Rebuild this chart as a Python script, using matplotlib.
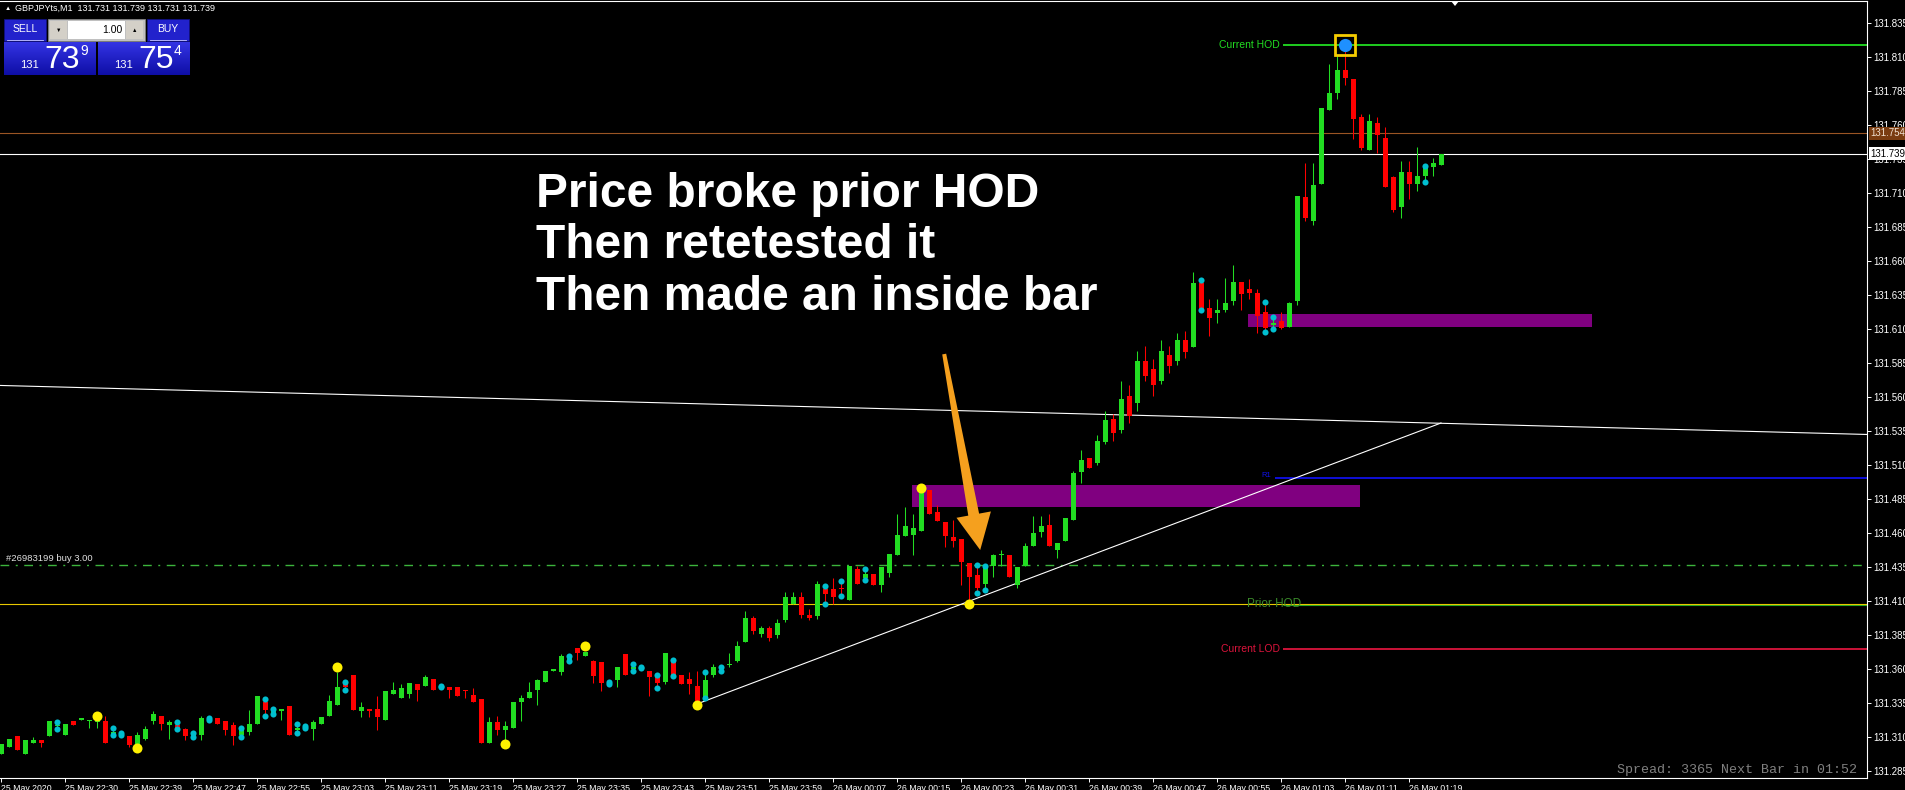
import numpy as np
import matplotlib
matplotlib.use("Agg")
import matplotlib.pyplot as plt
import matplotlib.patches as patches
import matplotlib.transforms as mtransforms
from matplotlib.colors import LinearSegmentedColormap

# ---- data (one entry per 1-minute bar) ----
opens = [131.298, 131.303, 131.311, 131.298, 131.306, 131.308, 131.311, 131.318, 131.312, 131.322,
         131.323, 131.322, 131.321, 131.322, 131.312, 131.312, 131.311, 131.304, 131.309, 131.322,
         131.326, 131.319, 131.319, 131.316, 131.312, 131.312, 131.324, 131.324, 131.322, 131.319,
         131.312, 131.314, 131.320, 131.336, 131.327, 131.329, 131.333, 131.315, 131.317, 131.316,
         131.320, 131.326, 131.334, 131.349, 131.356, 131.329, 131.331, 131.331, 131.323, 131.342,
         131.339, 131.342, 131.349, 131.348, 131.353, 131.347, 131.347, 131.347, 131.345, 131.341,
         131.338, 131.306, 131.321, 131.315, 131.317, 131.336, 131.339, 131.345, 131.351, 131.359,
         131.358, 131.367, 131.376, 131.370, 131.366, 131.365, 131.350, 131.352, 131.371, 131.360,
         131.361, 131.359, 131.355, 131.351, 131.366, 131.356, 131.353, 131.348, 131.339, 131.356,
         131.360, 131.363, 131.366, 131.380, 131.398, 131.386, 131.390, 131.385, 131.396, 131.408,
         131.413, 131.400, 131.399, 131.419, 131.419, 131.420, 131.411, 131.434, 131.427, 131.430,
         131.422, 131.431, 131.444, 131.458, 131.459, 131.462, 131.492, 131.476, 131.468, 131.457,
         131.456, 131.438, 131.429, 131.423, 131.436, 131.444, 131.444, 131.422, 131.436, 131.451,
         131.461, 131.466, 131.448, 131.454, 131.470, 131.505, 131.515, 131.512, 131.527, 131.544,
         131.536, 131.561, 131.556, 131.587, 131.581, 131.572, 131.591, 131.587, 131.602, 131.597,
         131.644, 131.626, 131.622, 131.624, 131.631, 131.645, 131.640, 131.637, 131.623, 131.613,
         131.616, 131.612, 131.631, 131.707, 131.690, 131.717, 131.771, 131.784, 131.801, 131.794,
         131.766, 131.742, 131.762, 131.751, 131.722, 131.700, 131.726, 131.717, 131.723, 131.729,
         131.731]
highs = [131.305, 131.309, 131.311, 131.308, 131.310, 131.308, 131.322, 131.321, 131.320, 131.322,
         131.324, 131.323, 131.326, 131.326, 131.317, 131.313, 131.311, 131.314, 131.318, 131.329,
         131.326, 131.323, 131.321, 131.317, 131.313, 131.326, 131.324, 131.324, 131.322, 131.321,
         131.317, 131.330, 131.340, 131.338, 131.331, 131.331, 131.333, 131.320, 131.318, 131.323,
         131.325, 131.341, 131.358, 131.351, 131.356, 131.336, 131.331, 131.340, 131.344, 131.351,
         131.349, 131.350, 131.349, 131.356, 131.353, 131.348, 131.347, 131.347, 131.345, 131.346,
         131.338, 131.325, 131.326, 131.322, 131.336, 131.341, 131.351, 131.353, 131.359, 131.360,
         131.371, 131.370, 131.376, 131.373, 131.367, 131.365, 131.351, 131.362, 131.371, 131.364,
         131.362, 131.359, 131.356, 131.372, 131.367, 131.356, 131.358, 131.359, 131.358, 131.364,
         131.362, 131.372, 131.381, 131.403, 131.399, 131.392, 131.392, 131.397, 131.417, 131.417,
         131.417, 131.404, 131.425, 131.421, 131.427, 131.425, 131.436, 131.436, 131.434, 131.430,
         131.435, 131.445, 131.474, 131.479, 131.474, 131.491, 131.492, 131.481, 131.468, 131.470,
         131.456, 131.438, 131.437, 131.436, 131.445, 131.448, 131.444, 131.435, 131.453, 131.473,
         131.473, 131.474, 131.453, 131.471, 131.506, 131.521, 131.515, 131.532, 131.550, 131.548,
         131.572, 131.569, 131.594, 131.598, 131.588, 131.602, 131.598, 131.607, 131.609, 131.652,
         131.646, 131.632, 131.632, 131.648, 131.657, 131.645, 131.647, 131.640, 131.630, 131.619,
         131.623, 131.630, 131.708, 131.732, 131.732, 131.773, 131.805, 131.812, 131.819, 131.794,
         131.768, 131.768, 131.766, 131.759, 131.723, 131.734, 131.734, 131.744, 131.730, 131.736,
         131.739]
lows = [131.298, 131.303, 131.301, 131.298, 131.306, 131.303, 131.311, 131.316, 131.312, 131.319,
        131.323, 131.317, 131.317, 131.306, 131.312, 131.312, 131.303, 131.304, 131.308, 131.320,
        131.315, 131.309, 131.316, 131.308, 131.310, 131.308, 131.323, 131.320, 131.312, 131.304,
        131.310, 131.312, 131.320, 131.326, 131.327, 131.323, 131.312, 131.313, 131.317, 131.308,
        131.320, 131.326, 131.334, 131.345, 131.330, 131.325, 131.325, 131.315, 131.323, 131.342,
        131.339, 131.339, 131.337, 131.348, 131.345, 131.347, 131.339, 131.340, 131.339, 131.336,
        131.306, 131.306, 131.312, 131.308, 131.317, 131.322, 131.339, 131.334, 131.351, 131.359,
        131.356, 131.366, 131.367, 131.370, 131.350, 131.344, 131.349, 131.347, 131.356, 131.359,
        131.361, 131.340, 131.346, 131.349, 131.355, 131.349, 131.342, 131.336, 131.339, 131.354,
        131.359, 131.362, 131.365, 131.380, 131.386, 131.384, 131.381, 131.383, 131.395, 131.408,
        131.398, 131.396, 131.397, 131.408, 131.408, 131.414, 131.411, 131.423, 131.426, 131.422,
        131.417, 131.428, 131.444, 131.458, 131.444, 131.462, 131.474, 131.469, 131.450, 131.450,
        131.422, 131.408, 131.416, 131.418, 131.428, 131.436, 131.428, 131.420, 131.436, 131.451,
        131.457, 131.451, 131.442, 131.454, 131.470, 131.497, 131.508, 131.510, 131.526, 131.528,
        131.534, 131.541, 131.550, 131.572, 131.561, 131.570, 131.578, 131.584, 131.589, 131.597,
        131.624, 131.605, 131.615, 131.623, 131.628, 131.624, 131.632, 131.607, 131.608, 131.610,
        131.610, 131.612, 131.628, 131.690, 131.687, 131.717, 131.771, 131.779, 131.790, 131.750,
        131.742, 131.742, 131.740, 131.715, 131.696, 131.692, 131.706, 131.712, 131.718, 131.723,
        131.731]
closes = [131.305, 131.309, 131.301, 131.308, 131.308, 131.306, 131.322, 131.319, 131.320, 131.319,
          131.324, 131.323, 131.322, 131.306, 131.314, 131.313, 131.304, 131.312, 131.316, 131.327,
          131.320, 131.321, 131.317, 131.311, 131.311, 131.324, 131.323, 131.320, 131.315, 131.311,
          131.316, 131.320, 131.340, 131.330, 131.329, 131.331, 131.312, 131.317, 131.318, 131.321,
          131.325, 131.337, 131.347, 131.347, 131.330, 131.332, 131.329, 131.325, 131.344, 131.345,
          131.346, 131.350, 131.345, 131.354, 131.345, 131.348, 131.345, 131.340, 131.344, 131.336,
          131.306, 131.321, 131.315, 131.318, 131.336, 131.339, 131.343, 131.352, 131.359, 131.360,
          131.370, 131.368, 131.372, 131.373, 131.355, 131.350, 131.350, 131.362, 131.356, 131.362,
          131.362, 131.354, 131.350, 131.372, 131.356, 131.349, 131.349, 131.336, 131.352, 131.362,
          131.361, 131.364, 131.377, 131.398, 131.388, 131.390, 131.383, 131.394, 131.413, 131.413,
          131.400, 131.398, 131.423, 131.415, 131.413, 131.419, 131.436, 131.423, 131.430, 131.422,
          131.435, 131.445, 131.459, 131.465, 131.464, 131.491, 131.474, 131.469, 131.458, 131.454,
          131.439, 131.428, 131.420, 131.435, 131.444, 131.445, 131.428, 131.435, 131.451, 131.460,
          131.465, 131.451, 131.453, 131.471, 131.504, 131.514, 131.508, 131.528, 131.543, 131.534,
          131.559, 131.546, 131.587, 131.576, 131.569, 131.594, 131.583, 131.602, 131.593, 131.644,
          131.625, 131.618, 131.624, 131.629, 131.645, 131.636, 131.637, 131.620, 131.611, 131.615,
          131.611, 131.629, 131.708, 131.692, 131.716, 131.773, 131.784, 131.801, 131.795, 131.765,
          131.743, 131.763, 131.753, 131.715, 131.698, 131.726, 131.717, 131.723, 131.729, 131.732,
          131.739]

# inside-bar markers (cyan dots at high and low) and fractal dots (yellow)
inside_bars = [7, 14, 15, 22, 24, 26, 30, 33, 34, 37, 38, 43, 55, 71, 76, 79, 80, 82, 84, 88,
               90, 103, 105, 108, 122, 123, 150, 158, 159, 178]
fractal_bars = [12, 17, 42, 63, 73, 87, 115, 121]
fractal_prices = [131.326, 131.302, 131.362, 131.305, 131.377, 131.334, 131.493, 131.408]

time_tick_bars = [0, 8, 16, 24, 32, 40, 48, 56, 64, 72, 80, 88, 96, 104, 112, 120, 128, 136,
                  144, 152, 160, 168, 176]
time_tick_labels = ["25 May 2020", "25 May 22:30", "25 May 22:39", "25 May 22:47", "25 May 22:55",
                    "25 May 23:03", "25 May 23:11", "25 May 23:19", "25 May 23:27", "25 May 23:35",
                    "25 May 23:43", "25 May 23:51", "25 May 23:59", "26 May 00:07", "26 May 00:15",
                    "26 May 00:23", "26 May 00:31", "26 May 00:39", "26 May 00:47", "26 May 00:55",
                    "26 May 01:03", "26 May 01:11", "26 May 01:19"]
price_tick_labels = ["131.835", "131.810", "131.785", "131.760", "131.735", "131.710", "131.685",
                     "131.660", "131.635", "131.610", "131.585", "131.560", "131.535", "131.510",
                     "131.485", "131.460", "131.435", "131.410", "131.385", "131.360", "131.335",
                     "131.310", "131.285"]

# levels
bid = 131.739
ask = 131.754
current_hod = 131.819
current_lod = 131.375
prior_hod = 131.408
order_price = 131.437
pivot_level = 131.501
hod_bar = 168
level_start_bar = 160.2

# drawn objects (bar index, price)
trend_flat = [(0, 131.5687), (180, 131.5409)]
trend_up = [(87, 131.3345), (180, 131.5411)]
zone_low = (113.9, 169.9, 131.4796, 131.4955)
zone_high = (155.9, 198.9, 131.6115, 131.6212)
arrow_from = (117.9, 131.5918)
arrow_to = (122.4, 131.4477)

BULL = "#22DD22"
BEAR = "#FF0000"
W, H = 1905, 790

plt.rcParams["font.family"] = ["Liberation Sans", "DejaVu Sans"]

fig = plt.figure(figsize=(W / 100, H / 100), dpi=100, facecolor="black")
ax = fig.add_axes([0, 12 / H, 1867 / W, 777 / H], facecolor="black")
ax.set_xlim(-0.125, 233.25)
ax.set_ylim(131.28007, 131.8514)

for side in ("top", "right", "bottom"):
    ax.spines[side].set_color("white")
    ax.spines[side].set_linewidth(0.8)
ax.spines["left"].set_visible(False)

# ---- axes ----
ax.yaxis.tick_right()
ax.set_yticks([float(s) for s in price_tick_labels])
ax.set_yticklabels(price_tick_labels)
ax.tick_params(axis="y", colors="white", length=3, width=0.7, pad=1.5, labelsize=7)
ax.set_xticks(time_tick_bars)
ax.set_xticklabels(time_tick_labels)
ax.tick_params(axis="x", colors="white", length=3, width=0.7, pad=1, labelsize=6.3)
for lbl in ax.get_xticklabels():
    lbl.set_ha("left")

# ---- zones ----
for x0, x1, p0, p1 in (zone_low, zone_high):
    ax.add_patch(patches.Rectangle((x0, p0), x1 - x0, p1 - p0, fc="#800080", ec="none",
                                   zorder=1.5, clip_on=True))

# ---- horizontal levels ----
ax.axhline(ask, color="#9A5524", lw=0.8, zorder=2)
ax.axhline(bid, color="white", lw=0.8, zorder=2)
ax.axhline(order_price, color="#3CB43C", lw=1.0, ls=(0, (6.3, 4.7, 1.4, 4.7)), zorder=2)
ax.hlines(prior_hod - 0.0008, level_start_bar, 233.25, color="#22AA22", lw=0.8, zorder=2)
ax.axhline(prior_hod, color="#E8C800", lw=0.8, zorder=2)
ax.hlines(current_hod, level_start_bar, 233.25, color=BULL, lw=1.3, zorder=2)
ax.hlines(current_lod, level_start_bar, 233.25, color="#DC143C", lw=1.3, zorder=2)
ax.hlines(pivot_level, level_start_bar - 1, 233.25, color="#1010E8", lw=1.3, zorder=2)

ax.text(level_start_bar - 0.3, current_hod, "Current HOD", color=BULL, fontsize=7.5,
        ha="right", va="center", zorder=5)
ax.text(level_start_bar - 0.3, current_lod, "Current LOD", color="#DC143C", fontsize=7.5,
        ha="right", va="center", zorder=5)
ax.text(159.1, prior_hod, "Prior HOD", color="#3A8A2A", fontsize=8.5, ha="center",
        va="center", zorder=5)
ax.text(level_start_bar - 1.4, pivot_level + 0.0012, "R1", color="#1010E8", fontsize=5.5,
        ha="right", va="center", zorder=5)
ax.annotate("#26983199 buy 3.00", xy=(0.6, order_price), xytext=(0, 2),
            textcoords="offset pixels", color="#E0E0E0", fontsize=6.8, va="bottom", zorder=5)

# trendlines
ax.axline(trend_flat[0], trend_flat[1], color="white", lw=0.8, zorder=2)
ax.plot([trend_up[0][0], trend_up[1][0]], [trend_up[0][1], trend_up[1][1]],
        color="white", lw=0.8, zorder=2)

# ---- candles ----
bars = np.arange(len(opens))
o, h, l, c = (np.array(v) for v in (opens, highs, lows, closes))
cols = np.where(c >= o, BULL, BEAR)
ax.vlines(bars, l, h, colors=cols, lw=0.75, zorder=3)
ax.bar(bars, np.maximum(np.abs(c - o), 0.0008), bottom=np.minimum(o, c), width=0.625,
       color=cols, linewidth=0, zorder=3.5)

ib = np.array(inside_bars)
ax.plot(ib, h[ib], "o", ms=4.4, color="#00BFD0", mew=0, zorder=4)
ax.plot(ib, l[ib], "o", ms=4.4, color="#00BFD0", mew=0, zorder=4)
ax.plot(fractal_bars, fractal_prices, "o", ms=7.2, color="#FFF000", mew=0, zorder=4)

# high-of-day marker
ax.plot(hod_bar, current_hod, "o", ms=9.5, color="#1E90FF", mew=0, zorder=6)
ax.plot(hod_bar, current_hod, "s", ms=14.5, mfc="none", mec="#F5CC00", mew=2, zorder=6)

# price tags on the right axis
ax.annotate(f"{ask:.3f}", xy=(1, ask), xycoords=("axes fraction", "data"), xytext=(3, 0),
            textcoords="offset pixels", va="center", ha="left", fontsize=7, color="#F0E0D0",
            bbox=dict(boxstyle="square,pad=0.15", fc="#7A3C10", ec="none"),
            annotation_clip=False, zorder=7)
ax.annotate(f"{bid:.3f}", xy=(1, bid), xycoords=("axes fraction", "data"), xytext=(3, 0),
            textcoords="offset pixels", va="center", ha="left", fontsize=7, color="black",
            bbox=dict(boxstyle="square,pad=0.15", fc="white", ec="none"),
            annotation_clip=False, zorder=7)

# ---- orange arrow (tapered shaft), built in pixel space from its two anchors ----
p0 = ax.transData.transform(arrow_from)
p1 = ax.transData.transform(arrow_to)
d = p1 - p0
u = d / np.hypot(*d)
n = np.array([-u[1], u[0]])
base = p1 - u * 36
pts = [p0 + n * 2, base + n * 5.5, base + n * 17.5, p1, base - n * 17.5, base - n * 5.5, p0 - n * 2]
ax.add_patch(patches.Polygon(pts, closed=True, fc="#F5A01E", ec="none",
                             transform=mtransforms.IdentityTransform(), clip_on=False, zorder=6))

# ---- overlay in pixel space: annotation text and the trade panel ----
ui = fig.add_axes([0, 0, 1, 1], facecolor="none")
ui.axis("off")

for y, line in zip((207, 258, 310), ("Price broke prior HOD", "Then retetested it",
                                     "Then made an inside bar")):
    ui.text(536, y, line, color="white", fontsize=34.5, fontweight="bold", va="baseline")

o_last, h_last, l_last, c_last = opens[-1], highs[-1], lows[-1], closes[-1]
ui.text(5, 8, "\u25b2", color="white", fontsize=4.5, va="center")
ui.text(15, 8, f"GBPJPYts,M1  {o_last:.3f} {h_last:.3f} {l_last:.3f} {c_last:.3f}",
        color="white", fontsize=6.5, va="center")

for x0, label in ((4, "SELL"), (147, "BUY")):
    ui.add_patch(patches.Rectangle((x0, 19), 42, 22, fc="#2222CC", ec="#101080", lw=0.6))
    ui.plot([x0 + 3, x0 + 39], [40, 40], color="#C8C8FF", lw=0.6)
    ui.text(x0 + 21, 29.5, label, color="white", fontsize=7.5, ha="center", va="center")

ui.add_patch(patches.Rectangle((48, 19), 97, 22, fc="#C0C0C0", ec="#808080", lw=0.6))
ui.add_patch(patches.Rectangle((50, 21), 17, 18, fc="#D4D0C8", ec="none"))
ui.add_patch(patches.Rectangle((126, 21), 17, 18, fc="#D4D0C8", ec="none"))
ui.add_patch(patches.Rectangle((68, 21), 57, 18, fc="white", ec="none"))
ui.text(58.5, 30, "\u25bc", color="black", fontsize=4, ha="center", va="center")
ui.text(134.5, 30, "\u25b2", color="black", fontsize=4, ha="center", va="center")
ui.text(122, 30, "1.00", color="black", fontsize=7.5, ha="right", va="center")

grad = np.linspace(0, 1, 64).reshape(-1, 1)
btn_cmap = LinearSegmentedColormap.from_list("btn", ["#3434E4", "#0E0EA6"])
for x0, x1, price in ((4, 96, bid), (98, 190, ask)):
    ui.imshow(grad, cmap=btn_cmap, extent=(x0, x1, 75, 42), aspect="auto", zorder=1)
    s = f"{price:.3f}"
    ui.text(x0 + 16, 68, s[:3], color="white", fontsize=8, va="baseline", zorder=2)
    ui.text(x0 + 40, 68, s[4:6], color="white", fontsize=23, va="baseline", zorder=2)
    ui.text(x0 + 76, 55, s[6], color="white", fontsize=10, va="baseline", zorder=2)

ui.add_patch(patches.Polygon([(1451, 1), (1459, 1), (1455, 6)], fc="white", ec="none"))
ui.text(1857, 770, "Spread: 3365 Next Bar in 01:52", color="#808080", fontsize=9.6,
        family="Liberation Mono", ha="right", va="center")

ui.set_xlim(0, W)
ui.set_ylim(H, 0)

fig.savefig("out.png", dpi=100, facecolor="black")
